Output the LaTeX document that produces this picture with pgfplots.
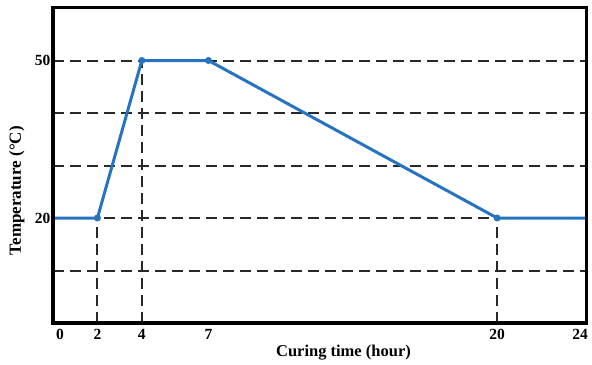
\documentclass[border=0pt]{standalone}
\usepackage{pgfplots}
\pgfplotsset{compat=1.18}
\usepackage{fontspec}
\setmainfont{Liberation Serif}
\definecolor{lineblue}{RGB}{38,116,192}
\definecolor{griddark}{RGB}{40,40,40}
\begin{document}
\begin{tikzpicture}[x=1bp,y=1bp]
\begin{axis}[
  name=ax,
  scale only axis,
  width=533bp, height=315bp,
  xmin=0, xmax=24, ymin=0, ymax=60,
  xtick={0,2,4,7,20,24},
  xticklabels={\kern14bp 0, 2, 4, 7, 20, 24\kern12bp},
  ytick={20,50},
  extra y ticks={10,30,40},
  extra y tick labels={},
  extra y tick style={major tick length=0pt, grid=major},
  major tick length=0pt,
  ymajorgrids,
  major grid style={griddark, line width=2bp, dash pattern=on 11bp off 6bp},
  axis line style={line width=2.2bp, black},
  tick label style={font=\fontsize{15.5bp}{17bp}\selectfont\bfseries},
  /pgf/number format/assume math mode=true,
  xlabel={\textbf{Curing time (hour)}},
  ylabel={\textbf{Temperature (°C)}},
  xlabel style={font=\fontsize{16.5bp}{18bp}\selectfont, at={(axis description cs:0.545,-0.095)}, anchor=center},
  ylabel style={font=\fontsize{17bp}{19bp}\selectfont, at={(axis description cs:-0.068,0.42)}, anchor=center},
  xticklabel style={yshift=-3bp},
  yticklabel style={xshift=1bp},
  clip=false,
]
\addplot[griddark, line width=2bp, dash pattern=on 11bp off 6bp] coordinates {(2,0) (2,20)};
\addplot[griddark, line width=2bp, dash pattern=on 11bp off 6bp] coordinates {(4,0) (4,50)};
\addplot[griddark, line width=2bp, dash pattern=on 11bp off 6bp] coordinates {(20,0) (20,20)};
\addplot[lineblue, line width=3bp, no marks] coordinates {
(0,20) (2,20) (4,50) (7,50) (20,20) (24,20)
};
\addplot[lineblue, only marks, mark=*, mark size=3.2bp, mark options={fill=lineblue, draw=lineblue, line width=0.5bp}] coordinates {
(2,20) (4,50) (7,50) (20,20)
};
\end{axis}
\draw[line width=3bp, black] (ax.south west) rectangle (ax.north east);
\pgfresetboundingbox
\path[use as bounding box] ([xshift=-53bp,yshift=-42bp]ax.south west) rectangle ([xshift=6bp,yshift=8bp]ax.north east);
\end{tikzpicture}
\end{document}
